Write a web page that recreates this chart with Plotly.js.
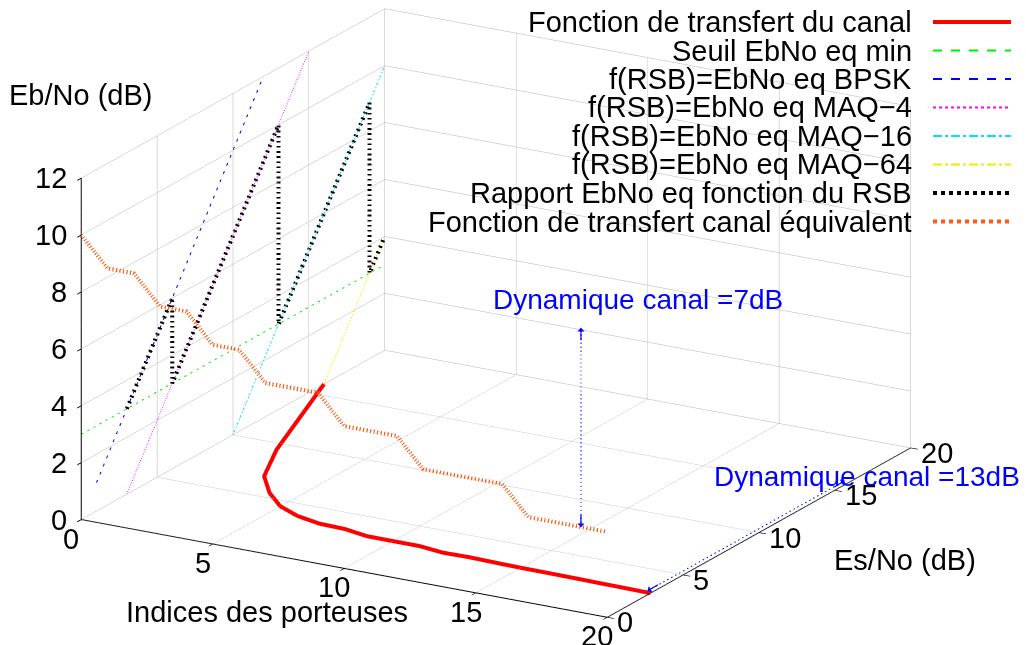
<!DOCTYPE html>
<html><head><meta charset="utf-8">
<script src="https://cdn.plot.ly/plotly-3.0.1.min.js"></script>
<style>html,body{margin:0;padding:0;background:#fff}#chart{width:1026px;height:645px}</style>
</head><body><div id="chart"></div>
<script>
// ---- data ----
const carriers = [0,1,2,3,4,5,6,7,8,9,10,11,12,13,14,15,16,17,18,19,20];
// Fonction de transfert du canal : Es/No (dB) per carrier (drawn on the floor, Eb/No = 0)
const channelEsNo = [16,12.7,9.4,6.85,5.47,4.45,3.87,3.56,3.5,3.23,3.22,3.22,3.02,3.05,3.0,2.96,2.95,2.93,2.9,2.88,2.85];
// Fonction de transfert canal équivalent : Eb/No eq (dB) per carrier (drawn at Es/No = 0)
const equivEbNo = [10,9,9,8,8,7,7,6,6,6,5,5,5,4,4,4,4,3,3,3,3];
// curves on the Indice = 0 wall : RSB (Es/No) -> Eb/No eq
const seuilRSB = [0,20],  seuilEbNo = [3,3];
const bpskRSB  = [1,12],  bpskEbNo  = [1,12];
const maq4RSB  = [3,15],  maq4EbNo  = [0,12];
const maq16RSB = [10,20], maq16EbNo = [0,10];
const maq64RSB = [16,20], maq64EbNo = [0,4];
const rapportRSB   = [3,6,6,13,13,19,19,20];
const rapportEbNo  = [3,6,3,10,3,9,3,4];
// dynamics arrows
const dyn7Carrier = 19, dyn7EbNo = [3,10];
const dyn13Carrier = 19.8, dyn13EsNo = [3,16];
const xTicks = [0,5,10,15,20], yTicks = [0,5,10,15,20], zTicks = [0,2,4,6,8,10,12];

const FONT = 'Liberation Sans, Arial, Helvetica, sans-serif';
const FS = 29;
const zeros = n => new Array(n).fill(0);
const fill = (n,v) => new Array(n).fill(v);

const series = [
  {name:'Fonction de transfert du canal', x:carriers, y:channelEsNo, z:zeros(carriers.length), color:'#ff0000', width:8, dash:'solid'},
  {name:'Seuil EbNo eq min', x:zeros(2), y:seuilRSB, z:seuilEbNo, color:'#00ee00', width:2, dash:'dash'},
  {name:'f(RSB)=EbNo eq BPSK', x:zeros(2), y:bpskRSB, z:bpskEbNo, color:'#0000ff', width:2, dash:'dash'},
  {name:'f(RSB)=EbNo eq MAQ\u22124', x:zeros(2), y:maq4RSB, z:maq4EbNo, color:'#ff00ff', width:2, dash:'dot'},
  {name:'f(RSB)=EbNo eq MAQ\u221216', x:zeros(2), y:maq16RSB, z:maq16EbNo, color:'#00e5ee', width:2, dash:'dashdot'},
  {name:'f(RSB)=EbNo eq MAQ\u221264', x:zeros(2), y:maq64RSB, z:maq64EbNo, color:'#eeee00', width:2, dash:'dashdot'},
  {name:'Rapport EbNo eq fonction du RSB', x:zeros(rapportRSB.length), y:rapportRSB, z:rapportEbNo, color:'#000000', width:8, dash:'dot'},
  {name:'Fonction de transfert canal \u00e9quivalent', x:carriers, y:zeros(carriers.length), z:equivEbNo, color:'#ff5a10', width:8, dash:'dot'}
];

const traces = series.map(s => ({
  type:'scatter3d', mode:'lines', name:s.name, x:s.x, y:s.y, z:s.z,
  line:{color:s.color, width:s.width, dash:s.dash}, hoverinfo:'skip', showlegend:false
}));
// dynamics arrows (dashed blue)
traces.push({type:'scatter3d', mode:'lines', x:fill(2,dyn7Carrier), y:zeros(2), z:dyn7EbNo,
  line:{color:'#0000ff', width:2, dash:'dash'}, hoverinfo:'skip', showlegend:false});
traces.push({type:'scatter3d', mode:'lines', x:fill(2,dyn13Carrier), y:dyn13EsNo, z:zeros(2),
  line:{color:'#0000ff', width:2, dash:'dash'}, hoverinfo:'skip', showlegend:false});

const axisCommon = {
  showbackground:false, showgrid:true, gridcolor:'#b4b4b4', gridwidth:1,
  showline:true, linecolor:'#000', linewidth:2, zeroline:false,
  ticks:'outside', tickcolor:'#000', ticklen:8, tickwidth:2,
  showticklabels:false, showspikes:false, title:{text:''}
};

// tick labels as upright scene annotations anchored at the tick values
const tickFont = {family:FONT, size:FS, color:'#000'};
const sceneAnn = [];
xTicks.forEach(v => sceneAnn.push({x:v, y:0, z:0, text:String(v), showarrow:false, font:tickFont,
  xanchor:'center', yanchor:'top', xshift:-10, yshift:-1}));
yTicks.forEach(v => sceneAnn.push({x:20, y:v, z:0, text:String(v), showarrow:false, font:tickFont,
  xanchor:'left', yanchor:'middle', xshift:8, yshift:-5}));
zTicks.forEach(v => sceneAnn.push({x:0, y:0, z:v, text:String(v), showarrow:false, font:tickFont,
  xanchor:'right', yanchor:'middle', xshift:-12, yshift:0}));
// arrow heads of the two "dynamique" arrows
const head = (x,y,z,ax,ay) => ({x:x, y:y, z:z, text:'', showarrow:true, arrowhead:1, arrowsize:1,
  arrowwidth:1.2, arrowcolor:'#0000ff', ax:ax, ay:ay});
sceneAnn.push(head(dyn7Carrier, 0, dyn7EbNo[1], 0, 14));
sceneAnn.push(head(dyn7Carrier, 0, dyn7EbNo[0], 0, -14));
sceneAnn.push(head(dyn13Carrier, dyn13EsNo[1], 0, -12, 7));
sceneAnn.push(head(dyn13Carrier, dyn13EsNo[0], 0, 12, -7));

// legend (gnuplot style: text right-aligned, sample on the right)
const W = 1026, H = 645;
const px = v => v / W, py = v => 1 - v / H;
const annotations = [], shapes = [];
series.forEach((s,i) => {
  const yc = 22 + 28.5 * i;
  annotations.push({xref:'paper', yref:'paper', x:px(914), y:py(yc), xanchor:'right', yanchor:'middle',
    text:s.name, showarrow:false, font:{family:FONT, size:FS, color:'#000'}});
  shapes.push({type:'line', xref:'paper', yref:'paper', x0:px(933), x1:px(1011), y0:py(yc), y1:py(yc),
    line:{color:s.color, width:s.width === 8 ? 4 : 2, dash:s.dash}});
});
// axis titles
annotations.push({xref:'paper', yref:'paper', x:px(80), y:py(95), xanchor:'center', yanchor:'middle',
  text:'Eb/No (dB)', showarrow:false, font:{family:FONT, size:FS, color:'#000'}});
annotations.push({xref:'paper', yref:'paper', x:px(267), y:py(612), xanchor:'center', yanchor:'middle',
  text:'Indices des porteuses', showarrow:false, font:{family:FONT, size:FS, color:'#000'}});
annotations.push({xref:'paper', yref:'paper', x:px(905), y:py(560), xanchor:'center', yanchor:'middle',
  text:'Es/No (dB)', showarrow:false, font:{family:FONT, size:FS, color:'#000'}});
// dynamics labels
annotations.push({xref:'paper', yref:'paper', x:px(491), y:py(300), xanchor:'left', yanchor:'middle',
  text:'Dynamique canal =7dB', showarrow:false, font:{family:FONT, size:28, color:'#0000ff'}});
annotations.push({xref:'paper', yref:'paper', x:px(712), y:py(476), xanchor:'left', yanchor:'middle',
  text:'Dynamique canal =13dB', showarrow:false, font:{family:FONT, size:28, color:'#0000ff'}});

const d = 2.0, k = 1.94;
const layout = {
  width:W, height:H, margin:{l:0,r:0,t:0,b:0}, paper_bgcolor:'#fff', showlegend:false,
  font:{family:FONT, size:FS, color:'#000'},
  scene:{
    domain:{x:[0,0.9668], y:[0.0294,1]},
    xaxis:Object.assign({}, axisCommon, {range:[0,20], tickvals:xTicks}),
    yaxis:Object.assign({}, axisCommon, {range:[0,20], tickvals:yTicks}),
    zaxis:Object.assign({}, axisCommon, {range:[0,12], tickvals:zTicks}),
    aspectmode:'manual', aspectratio:{x:1*k, y:1*k, z:0.594*k},
    camera:{projection:{type:'orthographic'}, up:{x:0,y:0,z:1}, center:{x:0,y:0,z:0},
      eye:{x:0.473*d, y:-0.820*d, z:0.322*d}},
    annotations:sceneAnn
  },
  annotations:annotations, shapes:shapes
};
Plotly.newPlot('chart', traces, layout, {displayModeBar:false});
</script></body></html>
